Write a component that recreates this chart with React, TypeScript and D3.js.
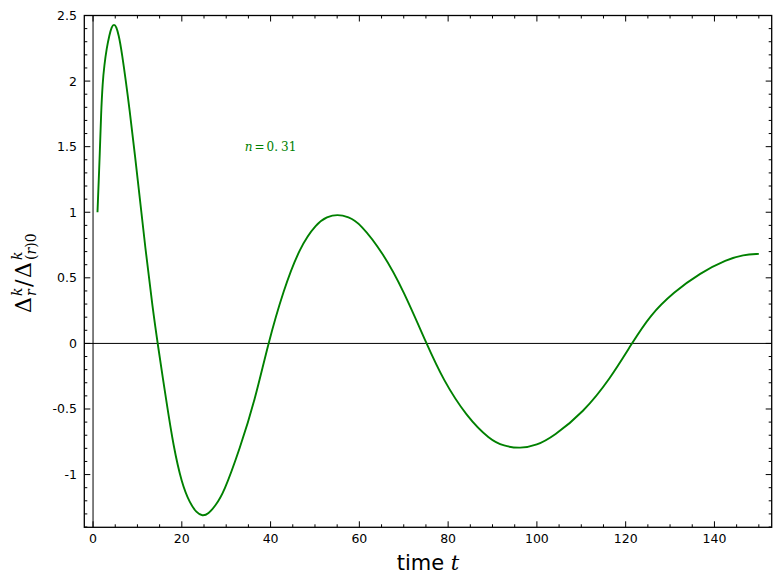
import React from "react";
import * as d3 from "d3";

// ---- data ----
const timeValues = [1, 1.57, 1.79, 2.17, 2.54, 3.07, 3.67, 4.2, 4.72, 5.25, 5.78, 6.37, 8.25, 10.13, 11.78, 13.5, 14.55, 16.6, 18.1, 19.97, 21.85, 23.3, 24.63, 26, 27.5, 29.4, 33.1, 36.5, 39.45, 42.9, 46.6, 50.4, 52.7, 55.05, 57.5, 60.2, 65.4, 69.9, 75.1, 78.9, 84.2, 89.5, 92.5, 96.2, 100, 103.7, 110.5, 116.5, 121.4, 125.5, 130.8, 136.8, 142.8, 146.5, 150];
const ratioValues = [1, 1.486, 1.74, 1.994, 2.12, 2.25, 2.35, 2.415, 2.435, 2.415, 2.35, 2.25, 1.79, 1.23, 0.724, 0.25, 0, -0.46, -0.78, -1.067, -1.22, -1.29, -1.318, -1.3, -1.24, -1.145, -0.8, -0.43, 0, 0.406, 0.736, 0.915, 0.965, 0.985, 0.965, 0.915, 0.686, 0.406, 0, -0.28, -0.56, -0.737, -0.782, -0.802, -0.777, -0.71, -0.525, -0.27, 0, 0.215, 0.39, 0.538, 0.64, 0.676, 0.683];
const xTicks = [0, 20, 40, 60, 80, 100, 120, 140];
const xMinorTicks = d3.range(0, 155, 5);
const yTicks = [-1, -0.5, 0, 0.5, 1, 1.5, 2, 2.5];
const yTickLabels = ["-1", "-0.5", "0", "0.5", "1", "1.5", "2", "2.5"];
const yMinorTicks = d3.range(-14, 26, 1).map((v) => v / 10);
const annotation = { t: 40, y: 1.5 };

const W = 781;
const H = 583;
const left = 84.3, right = 771.7, top = 15.5, bottom = 527.3;
const GREEN = "#008000";

export default function App() {
  const x = d3.scaleLinear().domain([-1.97, 152.9]).range([left, right]);
  const y = d3.scaleLinear().domain([-1.402, 2.5]).range([bottom, top]);
  const pts = timeValues.map((t, i) => [t, ratioValues[i]] as [number, number]);
  const line = d3
    .line<[number, number]>()
    .x((d) => x(d[0]))
    .y((d) => y(d[1]))
    .curve(d3.curveBasis);

  const tickFont = { fontFamily: "DejaVu Sans", fontSize: 12.5 };
  const mathFont = "DejaVu Serif";

  return (
    <svg
      width={W}
      height={H}
      style={{ position: "fixed", left: 0, top: 0, background: "#fff" }}
    >
      <rect x={0} y={0} width={W} height={H} fill="#fff" />
      {/* zero axis lines */}
      <line x1={x(0)} x2={x(0)} y1={top} y2={bottom} stroke="#000" strokeWidth={1} />
      <line x1={left} x2={right} y1={y(0)} y2={y(0)} stroke="#000" strokeWidth={1} />

      {/* curve */}
      <path d={line(pts) || ""} fill="none" stroke={GREEN} strokeWidth={1.9} strokeLinejoin="round" />

      {/* ticks on all sides, pointing inward */}
      <g stroke="#000" strokeWidth={1}>
        {xMinorTicks.map((v) => {
          const major = v % 20 === 0;
          const L = major ? 6 : 3;
          return (
            <g key={"xt" + v}>
              <line x1={x(v)} x2={x(v)} y1={bottom} y2={bottom - L} />
              <line x1={x(v)} x2={x(v)} y1={top} y2={top + L} />
            </g>
          );
        })}
        {yMinorTicks.map((v) => {
          const major = Math.abs(Math.round(v * 10) % 5) === 0;
          const L = major ? 6 : 3;
          return (
            <g key={"yt" + v}>
              <line x1={left} x2={left + L} y1={y(v)} y2={y(v)} />
              <line x1={right} x2={right - L} y1={y(v)} y2={y(v)} />
            </g>
          );
        })}
      </g>

      {/* frame */}
      <rect
        x={left}
        y={top}
        width={right - left}
        height={bottom - top}
        fill="none"
        stroke="#000"
        strokeWidth={1.3}
      />

      {/* tick labels */}
      {xTicks.map((v) => (
        <text key={"xl" + v} x={x(v)} y={543} textAnchor="middle" {...tickFont}>
          {v}
        </text>
      ))}
      {yTicks.map((v, i) => (
        <text
          key={"yl" + v}
          x={77}
          y={y(v) + 4.5}
          textAnchor="end"
          {...tickFont}
        >
          {yTickLabels[i]}
        </text>
      ))}

      {/* annotation */}
      <text
        x={x(annotation.t)}
        y={y(annotation.y) + 4.5}
        textAnchor="middle"
        fill={GREEN}
        fontFamily={mathFont}
        fontSize={12}
      >
        <tspan fontStyle="italic">n</tspan>
        <tspan dx={2}>=</tspan>
        <tspan dx={2}>0.</tspan>
        <tspan dx={3}>31</tspan>
      </text>

      {/* x axis label */}
      <text x={(left + right) / 2} y={570} textAnchor="middle" fontSize={21} fontFamily="DejaVu Sans">
        time <tspan fontFamily={mathFont} fontStyle="italic">t</tspan>
      </text>

      {/* y axis label */}
      <g transform={`translate(31, 313) rotate(-90)`} fontFamily={mathFont}>
        <text x={0} y={0} fontSize={22}>Δ</text>
        <text x={17} y={-9} fontSize={14} fontStyle="italic">k</text>
        <text x={17} y={5} fontSize={14} fontStyle="italic">r</text>
        <text x={26} y={0} fontSize={22}>/</text>
        <text x={35} y={0} fontSize={22}>Δ</text>
        <text x={53} y={-9} fontSize={14} fontStyle="italic">k</text>
        <text x={53} y={5} fontSize={14}>
          (<tspan fontStyle="italic">r</tspan>)0
        </text>
      </g>
    </svg>
  );
}
